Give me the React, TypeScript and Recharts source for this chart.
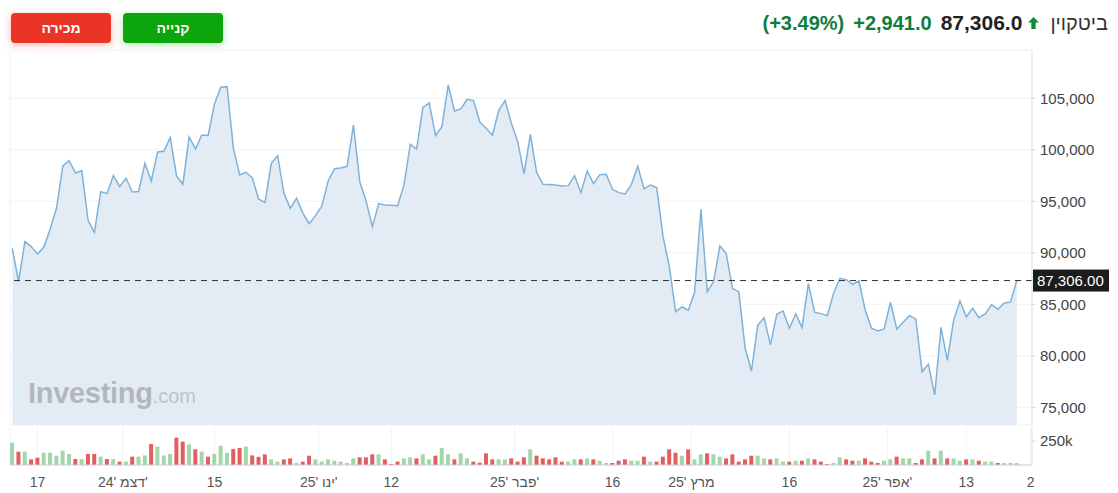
import React from 'react'
import {
  AreaChart,
  Area,
  BarChart,
  Bar,
  Cell,
  XAxis,
  YAxis,
  CartesianGrid,
  ReferenceLine,
} from 'recharts'

// daily closes, 13 Nov 2024 .. 21 Apr 2025
const prices = [
  90440, 87200, 91085, 90600, 89890, 90535, 92315, 94320, 98430, 98950,
  97750, 97980, 93125, 91990, 95940, 95745, 97490, 96425, 97235, 95905,
  95950, 98690, 96975, 99790, 99855, 101180, 97460, 96650, 101245, 100080,
  101440, 101400, 104420, 106070, 106130, 100145, 97560, 97815, 97265, 95200,
  94900, 98690, 99435, 95780, 94320, 95290, 93835, 92830, 93610, 94550,
  96975, 98170, 98235, 98400, 102410, 96910, 95030, 92540, 94775, 94645,
  94610, 94580, 96590, 100535, 100080, 104125, 104545, 101375, 102250, 106295,
  103770, 103965, 104900, 104775, 102700, 102090, 101410, 103835, 104775, 102575,
  100795, 97655, 101505, 97785, 96650, 96620, 96585, 96480, 96520, 97490,
  95840, 97945, 96715, 97590, 97620, 96165, 95840, 95710, 96650, 98400,
  96200, 96585, 96330, 91570, 88660, 84290, 84740, 84420, 86165, 94225,
  86230, 87200, 90665, 89920, 86555, 86200, 80730, 78530, 82995, 83705,
  81055, 84030, 84355, 82670, 84065, 82735, 87010, 84225, 84095, 83900,
  86070, 87525, 87395, 86945, 87265, 84450, 82670, 82410, 82605, 85195,
  82575, 83255, 83900, 83580, 78465, 79175, 76200, 82770, 79565, 83480,
  85325, 83770, 84615, 83705, 84065, 84970, 84515, 85100, 85230, 87306,
]

// volume, thousands
const volumes = [
  232, 139, 139, 59, 76, 128, 128, 97, 149, 115,
  62, 62, 115, 115, 87, 62, 62, 35, 35, 87,
  87, 100, 219, 191, 100, 115, 285, 243, 215, 163,
  139, 87, 115, 201, 128, 167, 177, 191, 100, 85,
  111, 59, 35, 59, 69, 24, 35, 97, 59, 35,
  59, 45, 35, 21, 69, 80, 80, 111, 111, 59,
  10, 35, 69, 80, 69, 111, 59, 97, 177, 111,
  59, 121, 69, 35, 24, 121, 59, 59, 59, 69,
  35, 80, 163, 97, 69, 59, 80, 35, 35, 59,
  59, 69, 59, 45, 21, 21, 45, 59, 45, 45,
  87, 35, 35, 87, 163, 128, 97, 163, 59, 111,
  121, 111, 87, 69, 111, 35, 59, 97, 97, 69,
  59, 69, 35, 35, 45, 45, 69, 59, 35, 10,
  21, 80, 59, 45, 45, 69, 35, 21, 45, 59,
  87, 69, 69, 21, 59, 149, 69, 149, 69, 69,
  45, 59, 59, 45, 35, 35, 21, 21, 21, 21,
]

const priceTicks = [75000, 80000, 85000, 90000, 95000, 100000, 105000]
const volumeTicks = [250]
const lastPrice = 87306

// day index from 13 Nov; month starts sit half a day earlier
const dateTicks = [4, 17.5, 32, 48.5, 60, 79.5, 95, 107.5, 123, 138.5, 151, 161.2]
const dateLabels = ['17', "24' דצמ'", '15', "25' ינו'", '12', "25' פבר'", '16', "25' מרץ", '16', "25' אפר'", '13', '2']

const xDomain = [-0.36, 161.4]
const GREEN = '#a3d6ab'
const RED = '#e35f5f'
const FONT = 'Arial, "Liberation Sans", sans-serif'

const rows = prices.map((p, i) => ({
  i,
  price: p,
  vol: volumes[i],
  up: i === 0 || p >= prices[i - 1],
}))

const PriceTag = (props: any) => {
  const vb = props.viewBox || {}
  const x = vb.x + vb.width + 1
  const y = vb.y
  return (
    <g>
      <rect x={x} y={y - 11} width={76} height={22} fill="#1c1c1c" />
      <text x={x + 4} y={y + 5} fill="#fff" fontSize={15} fontFamily={FONT}>
        87,306.00
      </text>
    </g>
  )
}

const DateTick = (props: any) => {
  const { x, y, payload } = props
  const idx = dateTicks.indexOf(payload.value)
  return (
    <text x={x} y={y + 14} textAnchor="middle" fill="#555" fontSize={14} fontFamily={FONT}>
      {dateLabels[idx]}
    </text>
  )
}

const btn = (bg: string, shadow: string, left: number): React.CSSProperties => ({
  position: 'absolute',
  left,
  top: 13,
  width: 100,
  height: 30,
  borderRadius: 4,
  background: bg,
  boxShadow: shadow,
  color: '#fff',
  fontWeight: 700,
  fontSize: 14,
  fontFamily: FONT,
  display: 'flex',
  alignItems: 'center',
  justifyContent: 'center',
})

export default function App() {
  return (
    <div
      style={{
        position: 'absolute',
        left: 0,
        top: 0,
        width: 1118,
        height: 493,
        background: '#fff',
        fontFamily: FONT,
        overflow: 'hidden',
      }}
    >
      <div style={btn('#ea3526', '0 2px 8px rgba(234,53,38,0.35)', 11)}>מכירה</div>
      <div style={btn('#0ca50b', '0 2px 8px rgba(12,165,11,0.3)', 123)}>קנייה</div>

      <div
        style={{
          position: 'absolute',
          right: 10,
          top: 10,
          height: 26,
          display: 'flex',
          alignItems: 'center',
          gap: 9,
          whiteSpace: 'nowrap',
        }}
      >
        <span style={{ color: '#0f7d3b', fontWeight: 700, fontSize: 20 }}>(+3.49%)</span>
        <span style={{ color: '#0f7d3b', fontWeight: 700, fontSize: 20 }}>+2,941.0</span>
        <span style={{ color: '#222', fontWeight: 700, fontSize: 21 }}>87,306.0</span>
        <svg width={11} height={12} viewBox="0 0 10 11" style={{ marginLeft: -3 }}>
          <polygon points="5,0 10,5 7,5 7,11 3,11 3,5 0,5" fill="#0f8a3c" />
        </svg>
        <span style={{ color: '#333', fontSize: 20, marginLeft: 2 }}>ביטקוין</span>
      </div>

      <div style={{ position: 'absolute', left: 0, top: 0 }}>
        <AreaChart
          width={1118}
          height={430}
          data={rows}
          margin={{ top: 50, right: 10, left: 10, bottom: 5 }}
        >
          <CartesianGrid stroke="#f1f2f4" />
          <XAxis
            type="number"
            dataKey="i"
            domain={xDomain}
            ticks={dateTicks}
            interval={0}
            height={0}
            tick={false}
            tickLine={false}
            axisLine={{ stroke: '#cdcdcd' }}
            allowDataOverflow
          />
          <YAxis
            orientation="right"
            width={76}
            domain={[73282, 109690]}
            ticks={priceTicks}
            interval={0}
            tickFormatter={(v: number) => v.toLocaleString('en-US')}
            tick={{ fill: '#444', fontSize: 15, fontFamily: FONT }}
            tickSize={4}
            tickMargin={4}
            axisLine={{ stroke: '#e2e5ea' }}
            tickLine={{ stroke: '#d5d8dc' }}
            allowDataOverflow
          />
          <Area
            type="linear"
            dataKey="price"
            stroke="#7fb2d9"
            strokeWidth={1.5}
            fill="#e3ecf4"
            fillOpacity={1}
            dot={false}
            activeDot={false}
            isAnimationActive={false}
          />
          <ReferenceLine y={lastPrice} stroke="#333" strokeDasharray="6 5" label={PriceTag} />
        </AreaChart>
      </div>

      <div style={{ position: 'absolute', left: 0, top: 425 }}>
        <BarChart
          width={1118}
          height={68}
          data={rows}
          margin={{ top: 2, right: 10, left: 10, bottom: 0 }}
        >
          <CartesianGrid stroke="#f1f2f4" horizontal={false} />
          <XAxis
            type="number"
            dataKey="i"
            domain={xDomain}
            ticks={dateTicks}
            interval={0}
            height={28}
            tickLine={false}
            axisLine={{ stroke: '#cdcdcd' }}
            tick={<DateTick />}
            allowDataOverflow
          />
          <YAxis
            orientation="right"
            width={76}
            domain={[0, 396]}
            ticks={volumeTicks}
            interval={0}
            tickFormatter={(v: number) => `${v}k`}
            tick={{ fill: '#444', fontSize: 15, fontFamily: FONT }}
            tickSize={4}
            tickMargin={4}
            axisLine={{ stroke: '#e2e5ea' }}
            tickLine={{ stroke: '#d5d8dc' }}
            allowDataOverflow
          />
          <Bar dataKey="vol" barSize={4} isAnimationActive={false}>
            {rows.map(r => (
              <Cell key={r.i} fill={r.up ? GREEN : RED} />
            ))}
          </Bar>
        </BarChart>
      </div>

      <div
        style={{
          position: 'absolute',
          left: 28,
          top: 377,
          color: '#b4b7ba',
          whiteSpace: 'nowrap',
          pointerEvents: 'none',
        }}
      >
        <span style={{ fontSize: 29, fontWeight: 700, letterSpacing: -0.3 }}>Investing</span>
        <span style={{ fontSize: 20, color: '#bfc2c5' }}>.com</span>
      </div>
    </div>
  )
}
